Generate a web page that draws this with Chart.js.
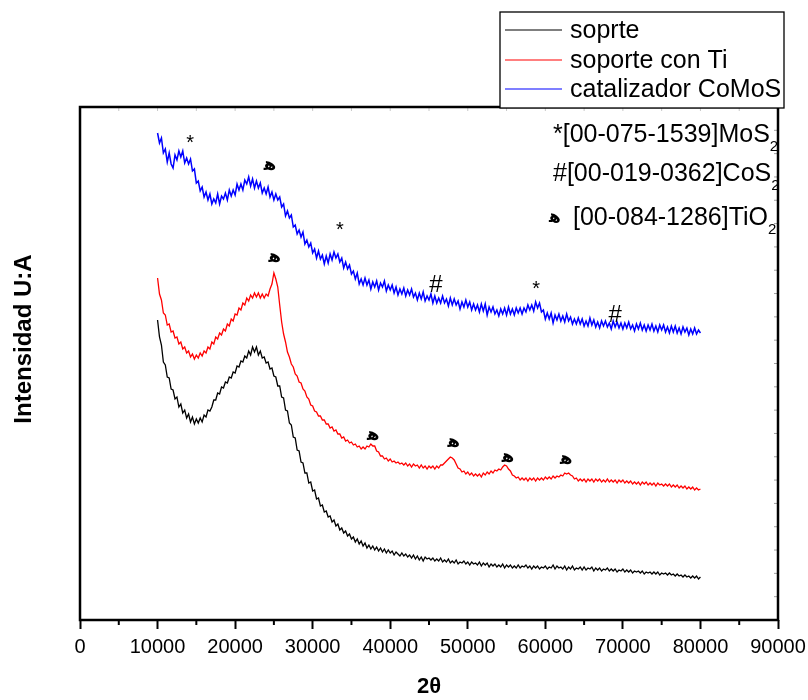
<!DOCTYPE html>
<html>
<head>
<meta charset="utf-8">
<script src="https://cdn.jsdelivr.net/npm/chart.js@4.4.0/dist/chart.umd.min.js"></script>
<style>
html,body{margin:0;padding:0;background:#ffffff;}
#c{display:block;}
</style>
</head>
<body>
<canvas id="c" width="808" height="700"></canvas>
<script>
// ---- data (x grid: 10000 .. 80000, every 250) ----
const X_START = 10000;
const X_STEP = 250;

const soprte = [
 300,283,275,258,255,243,242,231,
 230,221,223,213,216,207,210,202,
 206,198,203,196,201,197,202,198,
 205,203,210,209,213,220,220,227,
 226,233,232,238,237,243,242,248,
 247,254,253,259,258,264,262,269,
 265,273,268,273,265,269,262,263,
 257,258,251,252,244,243,234,234,
 223,222,210,209,197,195,183,182,
 170,169,158,157,147,147,137,138,
 129,130,121,122,114,115,108,109,
 103,104,98,100,94,96,90,92,
 87,89,84,86,81,83,78,81,
 76,79,74,77,72,75,71,74,
 70,73,69,72,68,71,67,70,
 67,69,65,68,66,64,67,64,
 66,63,65,62,65,61,64,60,
 63,59,63,61,62,60,62,59,
 61,59,62,58,60,58,61,57,
 59,57,60,56,58,57,59,56,
 58,55,58,56,57,55,58,54,
 57,55,57,53,56,54,56,53,
 55,53,56,52,55,53,55,52,
 54,52,55,52,54,53,55,52,
 54,51,54,52,54,51,53,52,
 54,51,53,52,55,51,54,52,
 53,51,54,50,53,51,54,50,
 52,51,53,50,53,50,52,51,
 53,49,52,50,52,49,51,50,
 52,49,51,49,51,48,50,49,
 51,48,50,48,50,47,49,48,
 49,47,49,46,48,47,48,46,
 48,46,48,45,47,46,47,45,
 47,45,46,44,46,44,45,43,
 45,43,44,42,44,42,44,41,
 43
];

const soporteConTi = [
 342,326,320,307,305,295,296,288,
 289,282,283,276,278,271,273,267,
 269,263,266,261,265,262,267,264,
 269,267,273,271,278,276,283,281,
 287,285,291,289,296,294,301,299,
 306,305,312,310,317,315,322,319,
 325,322,327,323,327,322,326,322,
 326,324,331,336,347,341,333,315,
 298,286,278,268,263,256,253,246,
 244,238,237,231,229,223,221,215,
 214,209,208,204,204,200,200,196,
 196,192,193,189,190,186,186,182,
 183,179,180,177,178,175,176,173,
 174,171,173,171,174,173,176,174,
 174,169,168,164,164,161,162,159,
 161,158,159,157,158,156,157,155,
 157,154,156,153,156,154,155,152,
 155,152,154,151,154,152,154,151,
 154,152,155,155,157,159,161,163,
 162,160,156,152,151,148,149,146,
 148,145,147,144,146,144,146,143,
 147,145,148,146,149,147,150,149,
 151,150,153,155,154,151,149,145,
 144,142,143,140,142,140,142,139,
 142,140,142,139,142,140,142,140,
 143,141,143,141,144,142,144,143,
 145,144,147,146,147,145,144,141,
 142,139,141,139,141,138,141,139,
 141,138,141,139,141,138,140,138,
 141,138,140,138,140,137,140,138,
 140,137,139,137,139,136,138,136,
 138,135,138,136,138,135,137,135,
 137,134,137,135,136,134,136,134,
 136,133,135,133,135,132,134,132,
 134,131,133,131,133,130,132,130,
 131
];

const catalizadorCoMoS = [
 487,477,482,467,471,458,467,456,
 452,465,460,469,463,469,457,462,
 456,461,449,451,437,439,429,433,
 423,428,420,426,416,421,417,426,
 416,424,421,427,420,430,424,430,
 425,436,430,436,430,440,436,443,
 434,441,432,439,432,437,427,432,
 426,433,423,428,420,426,420,423,
 413,416,404,409,402,405,393,395,
 386,390,383,388,376,380,373,377,
 367,371,362,369,361,365,356,364,
 357,366,360,368,362,366,358,362,
 352,358,351,355,346,349,341,347,
 336,341,335,342,335,340,331,338,
 333,339,330,337,333,339,329,335,
 330,335,327,333,325,331,326,332,
 324,330,325,331,323,327,320,327,
 321,328,319,324,320,326,317,324,
 317,322,317,324,317,321,314,322,
 315,321,315,319,311,318,313,320,
 313,318,310,316,310,315,308,316,
 309,316,305,313,308,313,306,310,
 304,311,306,312,305,313,306,311,
 305,312,307,312,306,312,308,315,
 310,315,309,318,312,317,308,310,
 301,307,301,307,297,305,300,306,
 299,304,298,306,299,303,296,301,
 296,302,296,301,294,299,294,302,
 295,300,293,298,292,299,294,299,
 293,297,291,299,293,298,292,297,
 291,297,292,298,291,295,289,296,
 291,297,290,295,289,295,290,296,
 289,294,288,295,290,295,288,293,
 287,294,288,294,287,292,286,293,
 288,292,285,291,286,292,286,290,
 287
];

const seriesLabels = ['soprte', 'soporte con Ti', 'catalizador CoMoS'];
const seriesColors = ['#000000', '#ff0000', '#0000ff'];

const xAxisTitle = '2θ';
const yAxisTitle = 'Intensidad U:A';

// phase reference notes (symbol, code + formula, subscript)
const noteSymbols = ['*', '#', 'ﻫ'];
const noteTexts = ['[00-075-1539]MoS', '[00-019-0362]CoS', '[00-084-1286]TiO'];
const noteSubs = ['2', '2', '2'];

// peak markers: symbol, 2θ position, intensity position
const markSymbols = ['*', 'ﻫ', '*', '#', '*', '#', 'ﻫ', 'ﻫ', 'ﻫ', 'ﻫ', 'ﻫ'];
const markX = [14200, 24500, 33500, 45900, 58800, 69000, 25100, 37800, 48200, 55200, 62700];
const markY = [481, 455, 394, 335, 335, 305, 363, 185, 178, 163, 161];

// ---- build ----
function toXY(arr) { return arr.map((v, i) => ({ x: X_START + i * X_STEP, y: v })); }
const seriesData = [soprte, soporteConTi, catalizadorCoMoS];
const seriesWidths = [1.3, 1.3, 1.5];

const SANS = '"Liberation Sans", Arial, sans-serif';
const GLYPH_FONT = '"DejaVu Sans", sans-serif';

const framePlugin = {
  id: 'frame',
  afterDraw(chart) {
    const { ctx, chartArea: a, scales } = chart;
    ctx.save();
    const xs = scales.x;
    for (let v = 5000; v < 90000; v += 10000) {
      const p = xs.getPixelForValue(v);
      ctx.strokeStyle = '#000'; ctx.lineWidth = 2;
      ctx.beginPath(); ctx.moveTo(p, a.bottom); ctx.lineTo(p, a.bottom + 5); ctx.stroke();
    }
    ctx.strokeStyle = '#c8c8c8'; ctx.lineWidth = 1;
    for (let v = 5000; v < 90000; v += 5000) {
      const p = xs.getPixelForValue(v);
      ctx.beginPath(); ctx.moveTo(p, a.top); ctx.lineTo(p, a.top + 4); ctx.stroke();
    }
    const ys = scales.y;
    const step = (ys.max - ys.min) / 22;
    ctx.strokeStyle = '#a0a0a0';
    for (let k = 1; k < 22; k++) {
      const p = ys.getPixelForValue(ys.min + k * step);
      ctx.beginPath(); ctx.moveTo(a.right, p); ctx.lineTo(a.right - 4, p); ctx.stroke();
    }
    ctx.strokeStyle = '#000'; ctx.lineWidth = 2.5;
    ctx.strokeRect(a.left, a.top, a.right - a.left, a.bottom - a.top);
    ctx.restore();
  }
};

const textPlugin = {
  id: 'texts',
  afterDraw(chart) {
    const { ctx, scales } = chart;
    // y axis title
    ctx.save();
    ctx.fillStyle = '#000';
    ctx.translate(24, 339);
    ctx.rotate(-Math.PI / 2);
    ctx.font = 'bold 24px ' + SANS;
    ctx.textAlign = 'center'; ctx.textBaseline = 'middle';
    ctx.fillText(yAxisTitle, 0, 0);
    ctx.restore();

    // legend box
    ctx.save();
    const lx = 500, ly = 12, lw = 284, lh = 96;
    ctx.fillStyle = '#fff';
    ctx.fillRect(lx, ly, lw, lh);
    ctx.strokeStyle = '#000'; ctx.lineWidth = 1.3;
    ctx.strokeRect(lx, ly, lw, lh);
    const rows = [30, 60, 89];
    chart.data.datasets.forEach((ds, i) => {
      ctx.strokeStyle = ds.borderColor; ctx.lineWidth = 1.2;
      ctx.beginPath(); ctx.moveTo(505, rows[i]); ctx.lineTo(562, rows[i]); ctx.stroke();
      ctx.fillStyle = '#000';
      ctx.font = '25px ' + SANS;
      ctx.textAlign = 'left'; ctx.textBaseline = 'middle';
      ctx.fillText(ds.label, 570, rows[i] + 1);
    });
    ctx.restore();

    // phase notes
    ctx.save();
    ctx.fillStyle = '#000';
    ctx.textBaseline = 'alphabetic'; ctx.textAlign = 'left';
    const baselines = [142, 181, 225];
    for (let i = 0; i < noteTexts.length; i++) {
      let text, x;
      if (noteSymbols[i] === 'ﻫ') {
        ctx.font = 'bold 17px ' + GLYPH_FONT;
        ctx.fillText(noteSymbols[i], 549, baselines[i] - 3);
        text = noteTexts[i]; x = 573;
      } else {
        text = noteSymbols[i] + noteTexts[i]; x = 553;
      }
      ctx.font = '25px ' + SANS;
      ctx.fillText(text, x, baselines[i]);
      const w = ctx.measureText(text).width;
      ctx.font = '15px ' + SANS;
      ctx.fillText(noteSubs[i], x + w, baselines[i] + 9);
    }
    // peak markers
    ctx.textAlign = 'center'; ctx.textBaseline = 'middle';
    for (let i = 0; i < markSymbols.length; i++) {
      const px = scales.x.getPixelForValue(markX[i]);
      let py = scales.y.getPixelForValue(markY[i]);
      const s = markSymbols[i];
      if (s === '*') { ctx.font = '20px ' + SANS; py += 4; }
      else if (s === '#') { ctx.font = '24px ' + SANS; }
      else { ctx.font = 'bold 18px ' + GLYPH_FONT; }
      ctx.fillText(s, px, py);
    }
    ctx.restore();
  }
};

new Chart(document.getElementById('c').getContext('2d'), {
  type: 'line',
  data: {
    datasets: seriesData.map((arr, i) => ({
      label: seriesLabels[i],
      data: toXY(arr),
      borderColor: seriesColors[i],
      backgroundColor: seriesColors[i],
      borderWidth: seriesWidths[i],
      pointRadius: 0,
      tension: 0,
      fill: false
    }))
  },
  options: {
    responsive: false,
    animation: false,
    devicePixelRatio: 1,
    layout: { padding: { top: 107, right: 30, left: 0, bottom: 0 } },
    plugins: { legend: { display: false }, tooltip: { enabled: false } },
    scales: {
      x: {
        type: 'linear', min: 0, max: 90000,
        afterFit(s) { s.height = 80; s.paddingLeft = 0; s.paddingRight = 0; },
        border: { display: false },
        grid: {
          drawOnChartArea: false, drawTicks: true, tickLength: 9, tickWidth: 2,
          tickColor: c => (c.tick && c.tick.value % 10000 === 0) ? '#000' : 'rgba(0,0,0,0)'
        },
        ticks: {
          stepSize: 5000, autoSkip: false, maxRotation: 0, minRotation: 0, padding: 6,
          color: '#000', font: { family: SANS, size: 20 },
          callback: v => (v % 10000 === 0 ? String(v) : '')
        },
        title: {
          display: true, text: xAxisTitle, color: '#000',
          font: { family: SANS, size: 22, weight: 'bold' }, padding: { top: 0, bottom: 0 }
        }
      },
      y: {
        type: 'linear', min: 0, max: 513,
        afterFit(s) { s.width = 80; s.paddingTop = 0; s.paddingBottom = 0; },
        border: { display: false },
        grid: { display: false },
        ticks: { display: false }
      }
    }
  },
  plugins: [framePlugin, textPlugin]
});
</script>
</body>
</html>
